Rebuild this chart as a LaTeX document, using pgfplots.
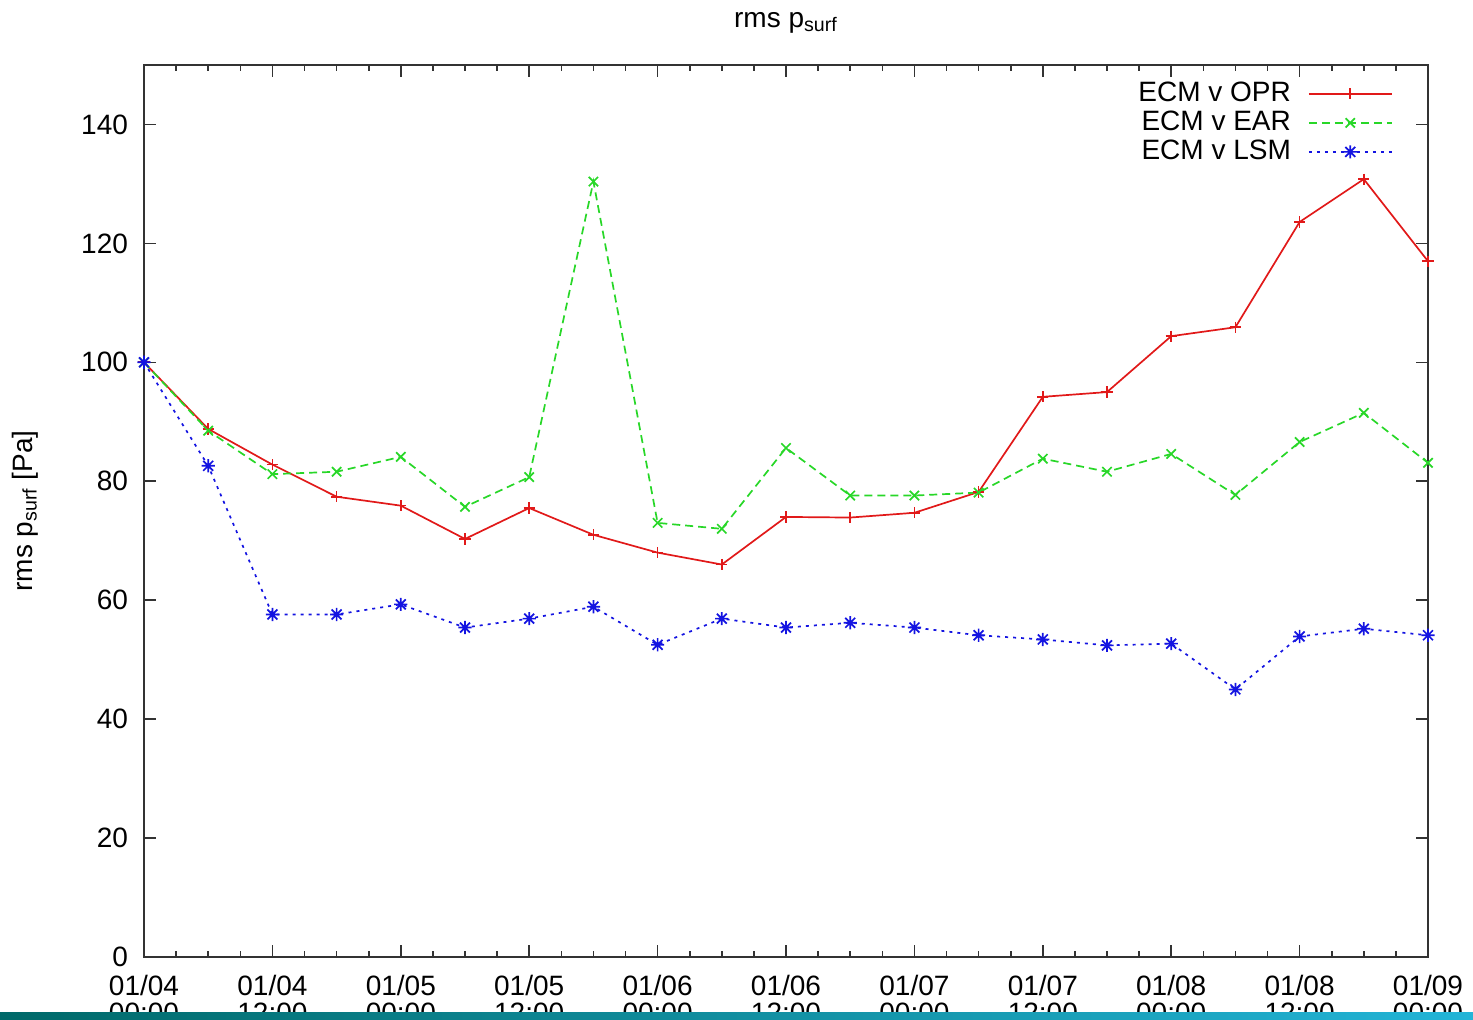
\documentclass[border=0pt]{standalone}
\usepackage{pgfplots}
\pgfplotsset{compat=1.18}
\usepackage{fontspec}
\setmainfont{Liberation Sans}
\usetikzlibrary{plotmarks}

\definecolor{gpred}{RGB}{225,25,25}
\definecolor{gpgreen}{RGB}{40,215,40}
\definecolor{gpblue}{RGB}{20,20,225}
\definecolor{tealL}{RGB}{0,105,105}
\definecolor{tealR}{RGB}{35,180,215}

% gnuplot style asterisk: + and x together
\pgfdeclareplotmark{gpstar}{%
  \pgfpathmoveto{\pgfqpoint{-\pgfplotmarksize}{0pt}}%
  \pgfpathlineto{\pgfqpoint{\pgfplotmarksize}{0pt}}%
  \pgfpathmoveto{\pgfqpoint{0pt}{-\pgfplotmarksize}}%
  \pgfpathlineto{\pgfqpoint{0pt}{\pgfplotmarksize}}%
  \pgfpathmoveto{\pgfqpoint{-0.75\pgfplotmarksize}{-0.75\pgfplotmarksize}}%
  \pgfpathlineto{\pgfqpoint{0.75\pgfplotmarksize}{0.75\pgfplotmarksize}}%
  \pgfpathmoveto{\pgfqpoint{-0.75\pgfplotmarksize}{0.75\pgfplotmarksize}}%
  \pgfpathlineto{\pgfqpoint{0.75\pgfplotmarksize}{-0.75\pgfplotmarksize}}%
  \pgfusepathqstroke}

\pgfplotstableread{
i   opr    ear    lsm
0   100.0  100.0  100.0
1   88.8   88.5   82.6
2   82.8   81.2   57.6
3   77.4   81.6   57.6
4   75.9   84.1   59.3
5   70.3   75.7   55.4
6   75.5   80.7   56.9
7   71.0   130.4  58.9
8   68.0   73.0   52.5
9   66.0   72.0   56.9
10  74.0   85.6   55.4
11  73.9   77.6   56.2
12  74.7   77.6   55.4
13  78.2   78.1   54.1
14  94.2   83.8   53.4
15  95.0   81.6   52.4
16  104.4  84.6   52.7
17  105.9  77.7   45.0
18  123.6  86.6   53.9
19  130.8  91.5   55.2
20  117.0  83.1   54.1
}\rmsdata

\begin{document}
\begin{tikzpicture}
\begin{axis}[
  at={(72pt,31pt)}, anchor=south west,
  scale only axis, width=642pt, height=446pt,
  xmin=0, xmax=20, ymin=0, ymax=150,
  font=\fontsize{14}{14}\selectfont,
  axis line style={line width=1pt, black!80},
  tick align=inside,
  major tick length=6pt, minor tick length=3pt,
  every tick/.style={black!80, line width=0.8pt},
  xtick={0,2,...,20},
  minor x tick num=3,
  ytick={0,20,...,140},
  xticklabels={{01/04\\00:00},{01/04\\12:00},{01/05\\00:00},{01/05\\12:00},{01/06\\00:00},{01/06\\12:00},{01/07\\00:00},{01/07\\12:00},{01/08\\00:00},{01/08\\12:00},{01/09\\00:00}},
  xticklabel style={align=center, yshift=-5.5pt, font=\fontsize{14}{13.5}\selectfont},
  yticklabel style={xshift=-4.5pt},
  /pgf/number format/assume math mode=true,
  title={rms p\textsubscript{surf}},
  title style={at={(axis description cs:0.5,1)}, anchor=center, yshift=15pt},
  ylabel={rms p\textsubscript{surf} [Pa]},
  ylabel style={at={(axis description cs:-0.0927,0.5)}, anchor=center},
  legend plot pos=right,
  legend cell align=right,
  legend style={draw=none, fill=none, at={(axis description cs:1,1)}, anchor=north east,
    xshift=-17.5pt, yshift=-7pt, inner sep=0pt, row sep=0pt, column sep=7.5pt,
    nodes={inner sep=1pt, text height=10pt, text depth=2.5pt},
    font=\fontsize{14}{13}\selectfont},
  legend image code/.code={\draw[mark repeat=2, mark phase=2, #1] plot coordinates {(0pt,0pt) (20.75pt,0pt) (41.5pt,0pt)};},
  every axis plot/.append style={line width=0.85pt, mark options={solid}},
]
\addplot[gpred, mark=+, mark size=2.8pt] table[x=i, y=opr] {\rmsdata};
\addlegendentry{ECM v OPR}
\addplot[gpgreen, dash pattern=on 4pt off 2.5pt, mark=x, mark size=3.3pt] table[x=i, y=ear] {\rmsdata};
\addlegendentry{ECM v EAR}
\addplot[gpblue, dash pattern=on 1.5pt off 2.5pt, mark=gpstar, mark size=3.3pt] table[x=i, y=lsm] {\rmsdata};
\addlegendentry{ECM v LSM}
\end{axis}
\pgfresetboundingbox
\path[use as bounding box] (0,0) rectangle (736.5pt,509.5pt);
\shade[left color=tealL, right color=tealR] (0,0) rectangle (736.5pt,3.5pt);
\end{tikzpicture}
\end{document}
